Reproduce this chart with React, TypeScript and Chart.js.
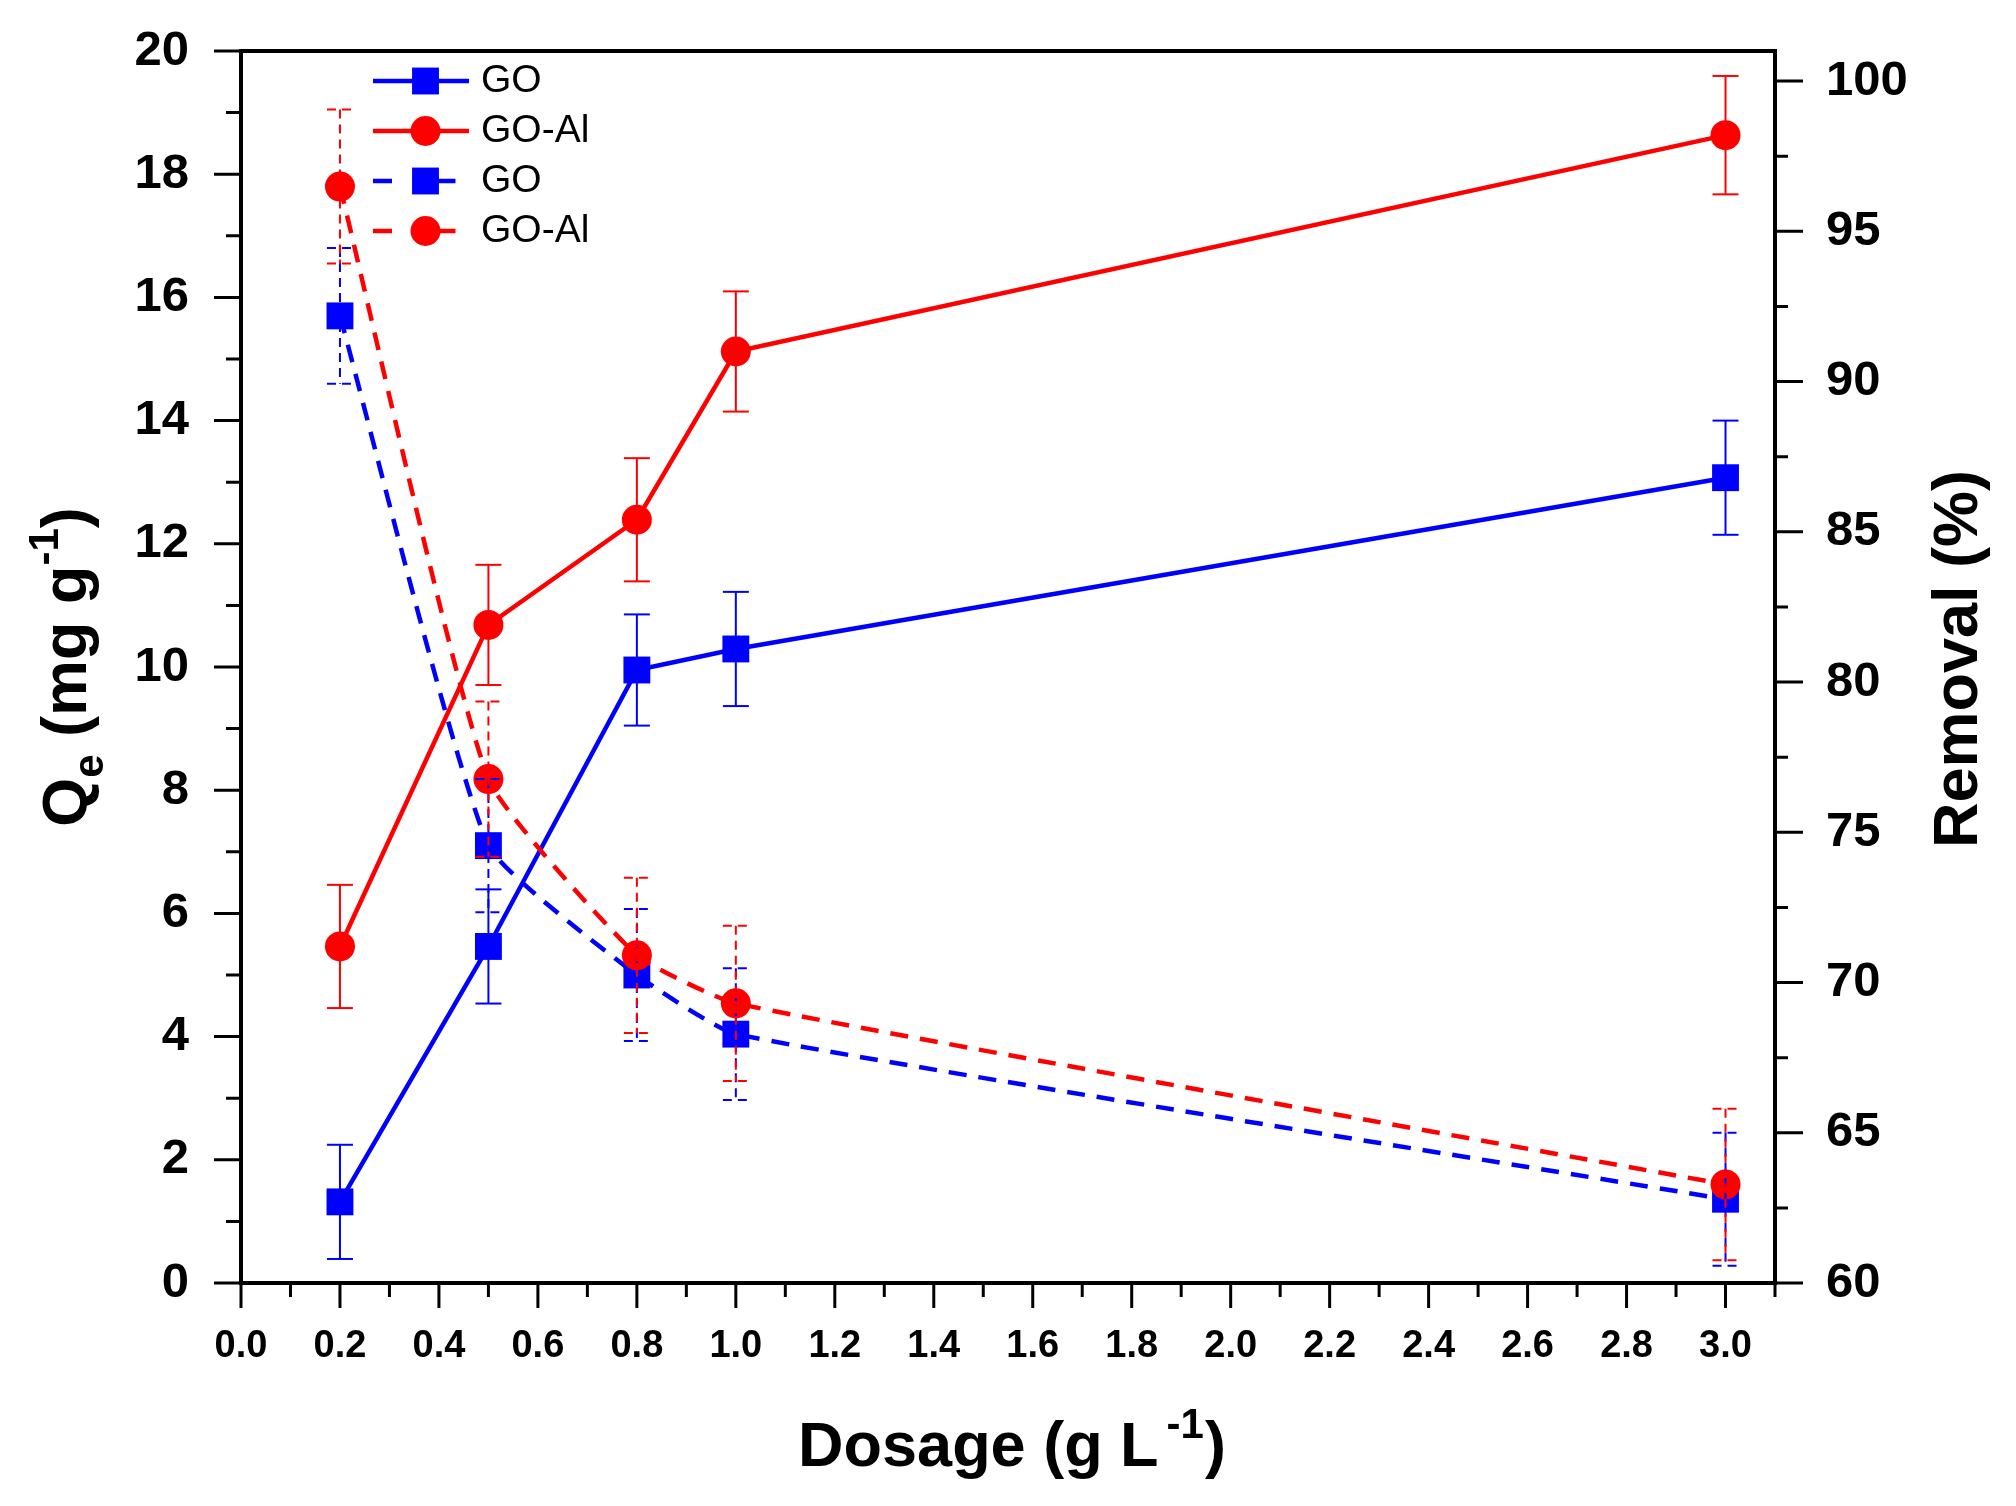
import React, { useEffect, useRef } from 'react';
import { Chart, registerables } from 'chart.js';

Chart.register(...registerables);

// ---------------- data ----------------
const dosage = [0.2, 0.5, 0.8, 1.0, 3.0];

// Removal (%) — solid lines, right axis
const removalGO = [62.7, 71.2, 80.4, 81.1, 86.8];
const removalGOErr = [1.9, 1.9, 1.85, 1.9, 1.9];
const removalGOAl = [71.2, 81.9, 85.4, 91.0, 98.2];
const removalGOAlErr = [2.05, 2.0, 2.05, 2.0, 1.97];

// Qe (mg/g) — dashed lines, left axis
const qeGO = [15.7, 7.1, 5.0, 4.04, 1.36];
const qeGOErr = [1.1, 1.08, 1.07, 1.07, 1.08];
const qeGOAl = [17.8, 8.18, 5.32, 4.54, 1.6];
const qeGOAlErr = [1.25, 1.26, 1.26, 1.26, 1.23];

// ---------------- ticks ----------------
const xMajorTicks = [0, 0.2, 0.4, 0.6, 0.8, 1.0, 1.2, 1.4, 1.6, 1.8, 2.0, 2.2, 2.4, 2.6, 2.8, 3.0];
const xMinorTicks = [0.1, 0.3, 0.5, 0.7, 0.9, 1.1, 1.3, 1.5, 1.7, 1.9, 2.1, 2.3, 2.5, 2.7, 2.9, 3.1];
const qeMajorTicks = [0, 2, 4, 6, 8, 10, 12, 14, 16, 18, 20];
const qeMinorTicks = [1, 3, 5, 7, 9, 11, 13, 15, 17, 19];
const removalMajorTicks = [60, 65, 70, 75, 80, 85, 90, 95, 100];
const removalMinorTicks = [62.5, 67.5, 72.5, 77.5, 82.5, 87.5, 92.5, 97.5];

const FONT = '"Liberation Sans", Arial, Helvetica, sans-serif';
const BLUE = '#0000FF';
const RED = '#FF0000';
const LINE_DASH = [18, 12];
const ERR_DASH = [9, 6];

const W = 2016;
const H = 1506;

function series(ys: number[]) {
  return dosage.map((x, i) => ({ x, y: ys[i] }));
}

const errorBarsPlugin = {
  id: 'errorBars',
  afterDatasetsDraw(chart: any) {
    const ctx = chart.ctx;
    chart.data.datasets.forEach((ds: any, i: number) => {
      const meta = chart.getDatasetMeta(i);
      const xs = chart.scales[meta.xAxisID];
      const ys = chart.scales[meta.yAxisID];
      ctx.save();
      ctx.strokeStyle = ds.borderColor;
      ctx.lineWidth = 2;
      ctx.lineCap = 'butt';
      ctx.setLineDash(ds.errorDash);
      ds.data.forEach((p: any, j: number) => {
        const e = ds.errors[j];
        const px = xs.getPixelForValue(p.x);
        const top = ys.getPixelForValue(p.y + e);
        const bot = ys.getPixelForValue(p.y - e);
        ctx.beginPath();
        ctx.moveTo(px, top);
        ctx.lineTo(px, bot);
        ctx.stroke();
        ctx.beginPath();
        ctx.moveTo(px - 13, top);
        ctx.lineTo(px + 13, top);
        ctx.stroke();
        ctx.beginPath();
        ctx.moveTo(px - 13, bot);
        ctx.lineTo(px + 13, bot);
        ctx.stroke();
      });
      ctx.restore();
    });
  },
};

const framePlugin = {
  id: 'frameTicks',
  afterDraw(chart: any) {
    const { ctx, chartArea } = chart;
    const { left, right, top, bottom } = chartArea;
    const xs = chart.scales.x;
    const yl = chart.scales.y;
    const yr = chart.scales.y2;
    ctx.save();
    ctx.strokeStyle = '#000';
    ctx.setLineDash([]);
    ctx.lineWidth = 3;
    ctx.lineCap = 'butt';
    ctx.beginPath();
    xMajorTicks.forEach((v) => {
      const p = xs.getPixelForValue(v);
      ctx.moveTo(p, bottom);
      ctx.lineTo(p, bottom + 25);
    });
    xMinorTicks.forEach((v) => {
      const p = xs.getPixelForValue(v);
      ctx.moveTo(p, bottom);
      ctx.lineTo(p, bottom + 14);
    });
    qeMajorTicks.forEach((v) => {
      const p = yl.getPixelForValue(v);
      ctx.moveTo(left, p);
      ctx.lineTo(left - 27, p);
    });
    qeMinorTicks.forEach((v) => {
      const p = yl.getPixelForValue(v);
      ctx.moveTo(left, p);
      ctx.lineTo(left - 15, p);
    });
    removalMajorTicks.forEach((v) => {
      const p = yr.getPixelForValue(v);
      ctx.moveTo(right, p);
      ctx.lineTo(right + 28, p);
    });
    removalMinorTicks.forEach((v) => {
      const p = yr.getPixelForValue(v);
      ctx.moveTo(right, p);
      ctx.lineTo(right + 13, p);
    });
    ctx.stroke();
    ctx.lineWidth = 4;
    ctx.lineJoin = 'miter';
    ctx.strokeRect(left, top, right - left, bottom - top);
    ctx.restore();
  },
};

type Part = { t: string; size: number; dy: number; gap?: number; w?: number };

function drawRich(ctx: CanvasRenderingContext2D, parts: Part[], cx: number, baseline: number) {
  let total = 0;
  parts.forEach((p) => {
    ctx.font = `bold ${p.size}px ${FONT}`;
    p.w = ctx.measureText(p.t).width;
    total += p.w + (p.gap || 0);
  });
  let x = cx - total / 2;
  ctx.textAlign = 'left';
  ctx.textBaseline = 'alphabetic';
  parts.forEach((p) => {
    x += p.gap || 0;
    ctx.font = `bold ${p.size}px ${FONT}`;
    ctx.fillText(p.t, x, baseline + p.dy);
    x += p.w || 0;
  });
}

const titlesPlugin = {
  id: 'axisTitles',
  afterDraw(chart: any) {
    const { ctx, chartArea } = chart;
    ctx.save();
    ctx.fillStyle = '#000';
    // x title
    drawRich(
      ctx,
      [
        { t: 'Dosage (g L', size: 63, dy: 0 },
        { t: '-1', size: 42, dy: -28, gap: 8 },
        { t: ')', size: 63, dy: 0, gap: 1 },
      ],
      (chartArea.left + chartArea.right) / 2 + 4,
      1466
    );
    // left title
    ctx.save();
    ctx.translate(86, (chartArea.top + chartArea.bottom) / 2);
    ctx.rotate(-Math.PI / 2);
    drawRich(
      ctx,
      [
        { t: 'Q', size: 63, dy: 0 },
        { t: 'e', size: 42, dy: 17 },
        { t: ' (mg g', size: 63, dy: 0 },
        { t: '-1', size: 42, dy: -28 },
        { t: ')', size: 63, dy: 0 },
      ],
      0,
      0
    );
    ctx.restore();
    // right title
    ctx.save();
    ctx.translate(1977, (chartArea.top + chartArea.bottom) / 2 - 8);
    ctx.rotate(-Math.PI / 2);
    drawRich(ctx, [{ t: 'Removal (%)', size: 63, dy: 0 }], 0, 0);
    ctx.restore();
    ctx.restore();
  },
};

const legendPlugin = {
  id: 'insideLegend',
  afterDraw(chart: any) {
    const { ctx, chartArea } = chart;
    const x0 = chartArea.left + 132;
    const x1 = chartArea.left + 228;
    const mx = chartArea.left + 184.5;
    const tx = chartArea.left + 240;
    chart.data.datasets.forEach((ds: any, i: number) => {
      const cy = chartArea.top + 30 + i * 50;
      const dashed = ds.borderDash && ds.borderDash.length > 0;
      ctx.save();
      ctx.strokeStyle = ds.borderColor;
      ctx.lineWidth = ds.borderWidth;
      ctx.setLineDash([]);
      ctx.beginPath();
      if (dashed) {
        ctx.moveTo(x0, cy);
        ctx.lineTo(x0 + 19, cy);
        ctx.moveTo(mx + 13, cy);
        ctx.lineTo(mx + 30, cy);
      } else {
        ctx.moveTo(x0, cy);
        ctx.lineTo(x1, cy);
      }
      ctx.stroke();
      ctx.fillStyle = ds.backgroundColor;
      if (ds.pointStyle === 'rect') {
        const s = ds.pointRadius * Math.SQRT1_2;
        ctx.fillRect(mx - s, cy - s, 2 * s, 2 * s);
      } else {
        ctx.beginPath();
        ctx.arc(mx, cy, ds.pointRadius, 0, Math.PI * 2);
        ctx.fill();
      }
      ctx.fillStyle = '#000';
      ctx.font = `39px ${FONT}`;
      ctx.textAlign = 'left';
      ctx.textBaseline = 'alphabetic';
      ctx.fillText(ds.label, tx, cy + 10.5);
      ctx.restore();
    });
  },
};

function noPad(s: any) {
  s.paddingTop = 0;
  s.paddingBottom = 0;
  s.paddingLeft = 0;
  s.paddingRight = 0;
}

export default function App() {
  const ref = useRef<HTMLCanvasElement>(null);

  useEffect(() => {
    if (!ref.current) return;
    const common = {
      borderWidth: 4.5,
      pointBorderWidth: 0,
      fill: false,
      showLine: true,
    };
    const chart = new Chart(ref.current, {
      type: 'line',
      data: {
        datasets: [
          {
            ...common,
            label: 'GO',
            data: series(removalGO),
            errors: removalGOErr,
            errorDash: [],
            yAxisID: 'y2',
            borderColor: BLUE,
            backgroundColor: BLUE,
            pointStyle: 'rect',
            pointRadius: 19,
            pointHoverRadius: 19,
            borderDash: [],
            tension: 0,
            order: 4,
          },
          {
            ...common,
            label: 'GO-Al',
            data: series(removalGOAl),
            errors: removalGOAlErr,
            errorDash: [],
            yAxisID: 'y2',
            borderColor: RED,
            backgroundColor: RED,
            pointStyle: 'circle',
            pointRadius: 15,
            pointHoverRadius: 15,
            borderDash: [],
            tension: 0,
            order: 3,
          },
          {
            ...common,
            label: 'GO',
            data: series(qeGO),
            errors: qeGOErr,
            errorDash: ERR_DASH,
            yAxisID: 'y',
            borderColor: BLUE,
            backgroundColor: BLUE,
            pointStyle: 'rect',
            pointRadius: 19,
            pointHoverRadius: 19,
            borderDash: LINE_DASH,
            tension: 0.15,
            order: 2,
          },
          {
            ...common,
            label: 'GO-Al',
            data: series(qeGOAl),
            errors: qeGOAlErr,
            errorDash: ERR_DASH,
            yAxisID: 'y',
            borderColor: RED,
            backgroundColor: RED,
            pointStyle: 'circle',
            pointRadius: 15,
            pointHoverRadius: 15,
            borderDash: LINE_DASH,
            tension: 0.15,
            order: 1,
          },
        ] as any,
      },
      options: {
        responsive: false,
        animation: false,
        events: [],
        layout: { padding: { top: 51, left: 0, right: 0, bottom: 0 } },
        plugins: {
          legend: { display: false },
          tooltip: { enabled: false },
          title: { display: false },
        },
        scales: {
          x: {
            type: 'linear',
            position: 'bottom',
            min: 0,
            max: 3.1,
            afterBuildTicks: (s: any) => {
              s.ticks = xMajorTicks.map((v) => ({ value: v }));
            },
            afterFit: (s: any) => {
              s.height = 223;
              noPad(s);
            },
            grid: { display: false },
            border: { display: false },
            ticks: {
              autoSkip: false,
              maxRotation: 0,
              minRotation: 0,
              padding: 33,
              color: '#000',
              font: { family: FONT, size: 38, weight: 'bold' },
              callback: (v: any) => Number(v).toFixed(1),
            },
          },
          y: {
            type: 'linear',
            position: 'left',
            min: 0,
            max: 20,
            afterBuildTicks: (s: any) => {
              s.ticks = qeMajorTicks.map((v) => ({ value: v }));
            },
            afterFit: (s: any) => {
              s.width = 241;
              noPad(s);
            },
            grid: { display: false },
            border: { display: false },
            ticks: {
              autoSkip: false,
              padding: 44,
              color: '#000',
              font: { family: FONT, size: 49, weight: 'bold' },
              callback: (v: any) => String(v),
            },
          },
          y2: {
            type: 'linear',
            position: 'right',
            min: 60,
            max: 101,
            afterBuildTicks: (s: any) => {
              s.ticks = removalMajorTicks.map((v) => ({ value: v }));
            },
            afterFit: (s: any) => {
              s.width = W - 1775;
              noPad(s);
            },
            grid: { display: false },
            border: { display: false },
            ticks: {
              autoSkip: false,
              padding: 43,
              color: '#000',
              font: { family: FONT, size: 49, weight: 'bold' },
              callback: (v: any) => String(v),
            },
          },
        },
      } as any,
      plugins: [errorBarsPlugin, framePlugin, titlesPlugin, legendPlugin],
    });
    return () => chart.destroy();
  }, []);

  return (
    <div style={{ position: 'fixed', left: 0, top: 0, width: W, height: H, background: '#fff' }}>
      <canvas ref={ref} width={W} height={H} style={{ display: 'block', width: W, height: H }} />
    </div>
  );
}
